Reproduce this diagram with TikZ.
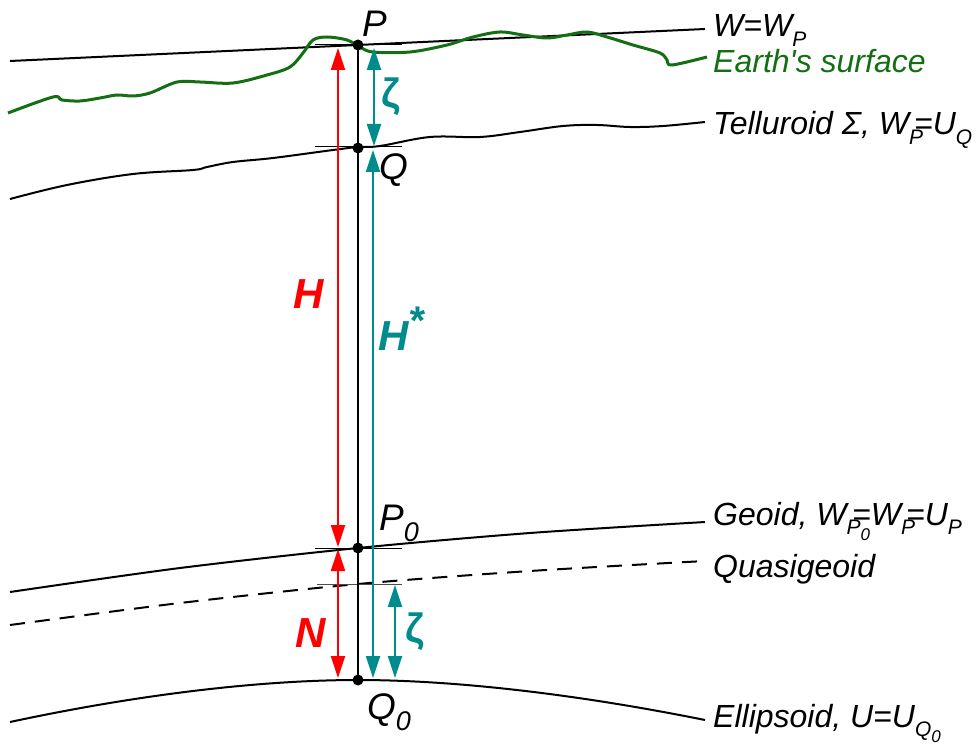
\documentclass[tikz,border=0pt]{standalone}
\usepackage{fontspec}
\setmainfont{Liberation Sans}
\usetikzlibrary{arrows.meta}
\definecolor{tealc}{RGB}{0,140,140}
\definecolor{earthgreen}{RGB}{20,110,20}
\definecolor{redc}{RGB}{255,0,0}
\newcommand\sbs[2][21]{\raisebox{-0.3em}{\fontsize{#1}{#1}\selectfont #2}}
\newcommand\ssbs[1]{\raisebox{-0.3em}{\fontsize{17}{17}\selectfont #1}}
\newcommand\bk{\hspace{-0.28em}}
\begin{document}
\begin{tikzpicture}[x=1pt,y=-1pt,
  lbl/.style={anchor=base west, inner sep=0pt, font=\fontsize{32}{36}\selectfont\itshape},
  ptlabel/.style={anchor=base west, inner sep=0pt, font=\fontsize{37}{40}\selectfont\itshape},
  biglabel/.style={anchor=base west, inner sep=0pt, font=\fontsize{42}{44}\selectfont\bfseries\itshape},
  zetalabel/.style={inner sep=0pt, text=tealc, font=\fontsize{41}{42}\selectfont\bfseries},
  dot/.style={circle, fill=black, inner sep=0pt, minimum size=11pt},
  surf/.style={line width=2pt, black},
  tick/.style={line width=1pt, black},
  dimarrow/.style={line width=2.3pt, {Triangle[length=22pt,width=14pt]}-{Triangle[length=22pt,width=14pt]}},
]
\useasboundingbox (0,0) rectangle (979,754);

% level surface W = W_P
\draw[surf] (10,61) -- (705,29);
% telluroid
\draw[surf] plot[smooth, tension=0.6] coordinates {(10,199) (67,185) (133,174) (193,170) (207,167) (233,162) (273,158) (333,150) (358,147) (380,146) (430,137) (480,137) (520,132) (563,126) (597,125) (630,127) (663,126) (705,122)};
% geoid
\draw[surf] plot[smooth] coordinates {(10,592) (180,568) (358,548) (530,533) (705,522)};
% quasigeoid
\draw[surf, dash pattern=on 15pt off 10pt] plot[smooth] coordinates {(10,625) (180,603) (358,584) (530,571) (705,561)};
% ellipsoid
\draw[surf] (10,722) .. controls (150,692) and (270,680) .. (358,680) .. controls (446,680) and (566,692) .. (705,720);
% earth's surface
\draw[line width=3pt, earthgreen] plot[smooth, tension=0.55] coordinates {(8,113) (53,97) (62,100) (80,101) (100,98) (117,95) (133,96) (150,93) (177,82) (200,82) (233,83) (267,75) (290,67) (303,53) (313,40) (327,37) (347,40) (360,47) (373,52) (410,52) (447,45) (473,37) (500,32) (523,35) (547,38) (567,35) (587,32) (607,37) (633,45) (660,53) (667,60) (672,65) (707,57)};

% ticks
\draw[tick] (315,45) -- (402,45);
\draw[tick] (315,147) -- (402,147);
\draw[tick] (315,548) -- (402,548);
\draw[line width=1pt, black!70] (317,584) -- (402,584);

% points
\node[dot] (P) at (358,45) {};
\node[dot] (Q) at (358,148) {};
\node[dot] (P0) at (358,548) {};
\node[dot] (Q0) at (358,680) {};
\draw[line width=2.2pt] (P.center) -- (Q0.center);

% arrow end points
\coordinate (Ht) at (338,48);
\coordinate (Hb) at (338,547);
\coordinate (Nt) at (338,549);
\coordinate (Nb) at (338,678);
\coordinate (Zt) at (374,48);
\coordinate (Zb) at (374,146);
\coordinate (Ast) at (373,150);
\coordinate (Asb) at (373,678);
\coordinate (Zlt) at (395,585);
\coordinate (Zlb) at (395,678);

\draw[dimarrow, redc] (Ht) -- (Hb);
\draw[dimarrow, redc] (Nt) -- (Nb);
\draw[dimarrow, tealc] (Zt) -- (Zb);
\draw[dimarrow, tealc] (Ast) -- (Asb);
\draw[dimarrow, tealc] (Zlt) -- (Zlb);

% point labels
\node[ptlabel] (lP) at (362,37) {P};
\node[ptlabel] (lQ) at (379,180) {Q};
\node[ptlabel] (lP0) at (379,530) {P\sbs[27]{0}};
\node[ptlabel] (lQ0) at (367,719) {Q\sbs[27]{0}};

% dimension labels
\node[biglabel, text=redc] (lH) at (293,308) {H};
\node[biglabel, text=tealc] (lHs) at (378,350) {H\raisebox{0.38em}{\fontsize{40}{40}\selectfont *}};
\node[biglabel, text=redc] (lN) at (295,647) {N};
\node[zetalabel] (lz1) at (391,97) {ζ};
\node[zetalabel] (lz2) at (415,632) {ζ};

% surface labels
\node[lbl] (tW) at (713,37) {W=W\sbs{P}};
\node[lbl, text=earthgreen] (tE) at (713,73) {Earth\textquotesingle s surface};
\node[lbl] (tT) at (713,135) {Telluroid Σ, W\sbs{P}\bk=U\sbs{Q}};
\node[lbl] (tG) at (713,525) {Geoid, W\sbs{P\ssbs{0}}\bk\bk=W\sbs{P}\bk=U\sbs{P}};
\node[lbl] (tQg) at (713,577) {Quasigeoid};
\node[lbl] (tEl) at (713,727) {Ellipsoid, U=U\sbs{Q\ssbs{0}}};
\end{tikzpicture}
\end{document}
